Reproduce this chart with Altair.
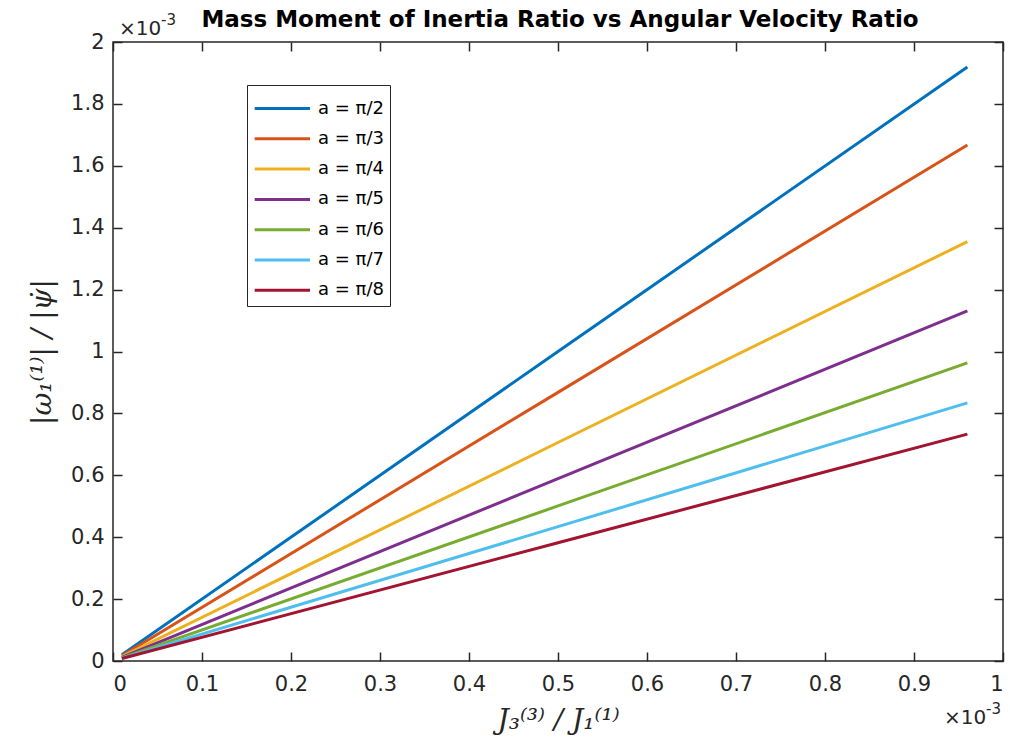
import altair as alt
import pandas as pd

series = ["a = π/2", "a = π/3", "a = π/4", "a = π/5", "a = π/6", "a = π/7", "a = π/8"]
colors = ["#0072BD", "#D95319", "#EDB120", "#7E2F8E", "#77AC30", "#4DBEEE", "#A2142F"]
x_pts = [0.01, 0.5, 0.96]
y_vals = {
    "a = π/2": [0.020, 1.000, 1.919],
    "a = π/3": [0.017, 0.868, 1.667],
    "a = π/4": [0.014, 0.706, 1.355],
    "a = π/5": [0.012, 0.589, 1.131],
    "a = π/6": [0.010, 0.501, 0.963],
    "a = π/7": [0.009, 0.434, 0.834],
    "a = π/8": [0.008, 0.382, 0.733],
}
x_ticks = [0, 0.1, 0.2, 0.3, 0.4, 0.5, 0.6, 0.7, 0.8, 0.9, 1]
y_ticks = [0, 0.2, 0.4, 0.6, 0.8, 1, 1.2, 1.4, 1.6, 1.8, 2]

rows = []
for s in series:
    for xv, yv in zip(x_pts, y_vals[s]):
        rows.append({"x": xv, "y": yv, "series": s})
df = pd.DataFrame(rows)

INK = "#262626"
W, H = 890, 619
TK = 9
SANS = "DejaVu Sans"

xs = alt.Scale(domain=[0, 1], nice=False, zero=False)
ys = alt.Scale(domain=[0, 2], nice=False, zero=False)

base = alt.Chart(df)

lines = base.mark_line(strokeWidth=3, clip=True).encode(
    x=alt.X("x:Q", scale=xs, axis=alt.Axis(
        values=x_ticks, format=".1~f", domain=False, ticks=False, grid=False,
        labelFont=SANS, labelFontSize=21, labelColor=INK, labelPadding=12,
        title="J₃⁽³⁾ / J₁⁽¹⁾", titleFont="DejaVu Serif", titleFontStyle="italic",
        titleFontWeight="normal", titleFontSize=28, titleColor=INK, titlePadding=12)),
    y=alt.Y("y:Q", scale=ys, axis=alt.Axis(
        values=y_ticks, format=".1~f", domain=False, ticks=False, grid=False,
        labelFont=SANS, labelFontSize=21, labelColor=INK, labelPadding=9,
        title="|ω₁⁽¹⁾| / |ψ̇|", titleFont="DejaVu Serif", titleFontStyle="italic",
        titleFontWeight="normal", titleFontSize=28, titleColor=INK, titlePadding=14)),
    color=alt.Color("series:N", sort=series,
                    scale=alt.Scale(domain=series, range=colors),
                    legend=alt.Legend(
                        title=None, orient="none", legendX=134, legendY=43,
                        symbolType="M-1,0L2.5,0", symbolSize=1000, symbolStrokeWidth=3,
                        labelFont=SANS, labelFontSize=18, labelColor="#000000",
                        rowPadding=3.3, padding=6, strokeColor=INK, fillColor="white",
                        labelOffset=30)),
    order=alt.Order("x:Q"),
)

def tick_layer(xorient, yorient):
    return base.mark_point(opacity=0).encode(
        x=alt.X("x:Q", scale=xs, axis=alt.Axis(
            orient=xorient, values=x_ticks, labels=False, domain=False, grid=False,
            ticks=True, tickSize=TK, tickColor=INK, tickWidth=1.5, offset=-TK, title=None)),
        y=alt.Y("y:Q", scale=ys, axis=alt.Axis(
            orient=yorient, values=y_ticks, labels=False, domain=False, grid=False,
            ticks=True, tickSize=TK, tickColor=INK, tickWidth=1.5, offset=-TK, title=None)),
    )

t1 = tick_layer("bottom", "left")
t2 = tick_layer("top", "right")

mult_df = pd.DataFrame({"t": ["×10"]})
exp_df = pd.DataFrame({"t": ["-3"]})
title_df = pd.DataFrame({"t": ["Mass Moment of Inertia Ratio vs Angular Velocity Ratio"]})

def note(dfn, x, y, size):
    return alt.Chart(dfn).mark_text(
        align="left", baseline="alphabetic", font=SANS, fontSize=size, color=INK
    ).encode(x=alt.value(x), y=alt.value(y), text="t:N")

top_mult = note(mult_df, 6, -7, 20)
top_exp = note(exp_df, 48, -17, 15)
bot_mult = note(mult_df, 831, H + 63, 20)
bot_exp = note(exp_df, 873, H + 53, 15)

title_mark = alt.Chart(title_df).mark_text(
    align="center", baseline="alphabetic", font=SANS, fontSize=23,
    fontWeight="bold", color="#000000"
).encode(x=alt.value(W / 2 + 2), y=alt.value(-15), text="t:N")

chart = alt.layer(lines, t1, t2, top_mult, top_exp, bot_mult, bot_exp, title_mark).resolve_axis(
    x="independent", y="independent"
).properties(
    width=W, height=H,
    autosize=alt.AutoSizeParams(type="none"),
    padding={"left": 113, "top": 42, "right": 7, "bottom": 95},
    background="white",
).configure_view(stroke=INK, strokeWidth=1.5)

chart.save("out.html", embed_options={"renderer": "svg", "actions": False})
